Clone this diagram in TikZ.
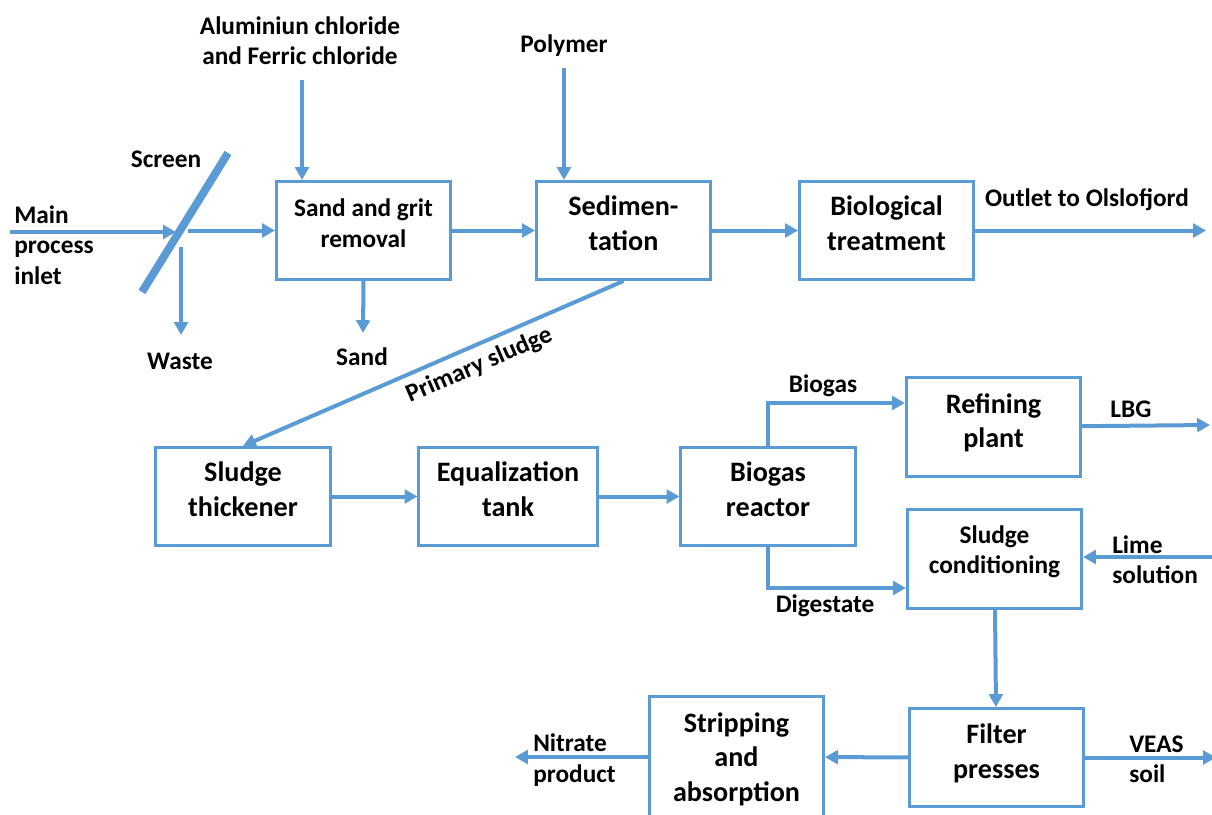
\documentclass[tikz,border=0pt]{standalone}
\usepackage{fontspec}
\setmainfont{Carlito}
\usetikzlibrary{arrows.meta,positioning}
\definecolor{flowblue}{HTML}{5B9BD5}

\begin{document}
\begin{tikzpicture}[x=0.025cm, y=-0.025cm,
  box/.style={draw=flowblue, line width=0.075cm, minimum width=4.35cm, minimum height=2.45cm},
  boxtxt/.style={align=center, inner sep=0pt, yshift=0.18cm, font=\bfseries\fontsize{20}{24.5}\selectfont},
  smalltxt/.style={boxtxt, font=\bfseries\fontsize{18}{21.5}\selectfont},
  lbl/.style={align=center, inner sep=0pt, font=\bfseries\fontsize{18}{21.5}\selectfont},
  flow/.style={draw=flowblue, line width=0.1cm, -{Triangle[length=0.32cm,width=0.34cm]}}]
\useasboundingbox (0,0) rectangle (1212,815);
\clip (0,0) rectangle (1212,815);

% top line
\node[box, label={[smalltxt]center:{Sand and grit\\removal}}] (sand) at (363.5,230.5) {};
\node[box, label={[boxtxt]center:{Sedimen-\\tation}}] (sed) at (623.5,230.5) {};
\node[box, label={[boxtxt]center:{Biological\\treatment}}] (bio) at (886.5,230.5) {};

% middle line
\node[box, label={[boxtxt]center:{Sludge\\thickener}}] (thick) at (243,496.5) {};
\node[box, minimum width=4.45cm, label={[boxtxt]center:{Equalization\\tank}}] (equal) at (508,496.5) {};
\node[box, label={[boxtxt]center:{Biogas\\reactor}}] (reactor) at (768,496.5) {};
\node[box, label={[boxtxt, yshift=-0.08cm]center:{Refining\\plant}}] (refine) at (993.5,427) {};
\node[box, label={[smalltxt]center:{Sludge\\conditioning}}] (cond) at (994.5,559) {};

% bottom line
\node[box, label={[boxtxt, yshift=-0.08cm]center:{Filter\\presses}}] (filter) at (996.5,757.5) {};
\node[box, minimum height=3cm, label={[boxtxt, yshift=-0.23cm]center:{Stripping\\and\\absorption}}] (strip) at (736.5,757) {};

% labels
\node[lbl, align=left] (inlet) at (54,245) {Main\\process\\inlet};
\node[lbl] (screen) at (166,159) {Screen};
\node[lbl] (waste) at (180,361) {Waste};
\node[lbl] (alcl) at (300,41) {Aluminiun chloride\\and Ferric chloride};
\node[lbl] (grit) at (362,357) {Sand};
\node[lbl] (poly) at (564,46) {Polymer};
\node[lbl] (outlet) at (1087,200) {Outlet to Olslofjord};
\node[lbl] (biogas) at (823,386) {Biogas};
\node[lbl] (lbg) at (1131,409) {LBG};
\node[lbl] (digest) at (825,606) {Digestate};
\node[lbl, align=left, anchor=west] (lime) at (1112,560) {Lime\\solution};
\node[lbl, align=left, anchor=west] (veas) at (1129,759) {VEAS\\soil};
\node[lbl, align=left, anchor=west] (nitrate) at (533,760) {Nitrate\\product};

% free ends
\coordinate (inA) at (10,232);
\coordinate (scrIn) at (176,232);
\coordinate (scrOut) at (188,230.5);
\coordinate (wasteA) at (181,247);
\coordinate (wasteB) at (181,335);
\coordinate (alclA) at (302,80);
\coordinate (sandB) at (363,333);
\coordinate (polyA) at (564,68);
\coordinate (outB) at (1206,230.5);
\coordinate (lbgB) at (1210,425);
\coordinate (limeA) at (1214,557);
\coordinate (veasB) at (1216,757.5);
\coordinate (nitB) at (515,757);

% screen
\draw[flowblue, line width=0.2cm] (228,153) -- (142,292);

\draw[flow] (inA) -- (scrIn);
\draw[flow] (scrOut) -- (sand);
\draw[flow] (wasteA) -- (wasteB);
\draw[flow] (alclA) -- (alclA |- sand.north);
\draw[flow] (sand.south) -- (sandB);
\draw[flow] (sand) -- (sed);
\draw[flow] (polyA) -- (polyA |- sed.north);
\draw[flow] (sed) -- (bio);
\draw[flow] (bio) -- (outB);
\draw[flow] (sed.south) -- node[lbl, sloped, below=5pt, pos=0.4] {Primary sludge} (thick.north);
\draw[flow] (thick) -- (equal);
\draw[flow] (equal) -- (reactor);
\draw[flow] (reactor.north) |- (refine.west |- 0,403);
\draw[flow] (reactor.south) |- (cond.west |- 0,588);
\draw[flow] (refine) -- (lbgB);
\draw[flow] (limeA) -- (cond.east |- limeA);
\draw[flow] (cond) -- (filter);
\draw[flow] (filter) -- (veasB);
\draw[flow] (filter) -- (strip);
\draw[flow] (strip) -- (nitB);
\end{tikzpicture}
\end{document}
